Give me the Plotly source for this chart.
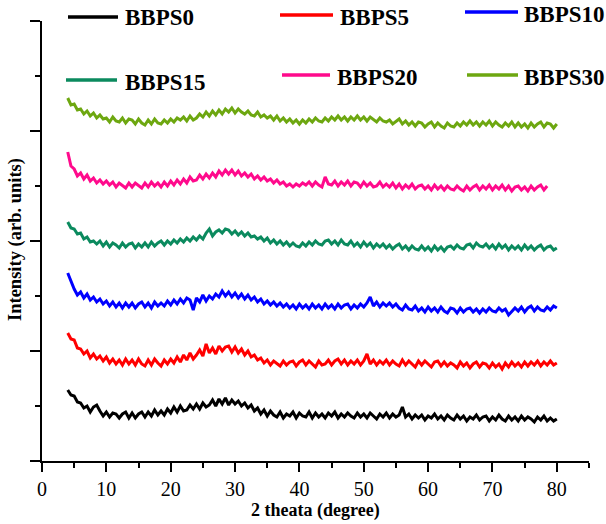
import plotly.graph_objects as go

# Diffraction angle grid (degrees), 0.5 degree steps from 4 to 80
two_theta = [4 + 0.5 * i for i in range(153)]

# Stacked XRD intensities (arb. units), one list per composition
bbps0 = [
    71, 66, 65, 59, 58, 53, 55, 49, 54, 56,
    50, 45, 49, 44, 48, 47, 43, 47, 49, 43,
    48, 43, 47, 49, 44, 49, 45, 51, 46, 50,
    46, 52, 48, 54, 49, 55, 50, 51, 56, 52,
    57, 52, 58, 54, 56, 61, 55, 62, 57, 63,
    56, 61, 57, 60, 55, 58, 53, 56, 50, 53,
    47, 51, 45, 50, 46, 44, 49, 43, 47, 45,
    49, 43, 48, 45, 44, 49, 43, 48, 44, 47,
    43, 48, 45, 49, 43, 47, 44, 48, 45, 43,
    48, 44, 47, 43, 48, 45, 42, 47, 44, 48,
    43, 47, 44, 46, 54, 44, 47, 42, 46, 43,
    46, 41, 45, 43, 47, 42, 45, 41, 46, 43,
    41, 46, 42, 45, 40, 44, 42, 46, 41, 44,
    45, 40, 44, 41, 46, 42, 40, 45, 41, 44,
    40, 45, 41, 44, 42, 39, 44, 41, 45, 40,
    43, 40, 42,
]
bbps5 = [
    128, 122, 121, 113, 112, 107, 110, 103, 107, 102,
    105, 100, 104, 98, 102, 97, 101, 96, 102, 97,
    101, 96, 102, 97, 95, 101, 96, 102, 98, 95,
    101, 97, 102, 98, 104, 99, 106, 101, 108, 102,
    106, 111, 105, 117, 108, 113, 107, 115, 110, 114,
    115, 109, 114, 108, 112, 106, 110, 104, 106, 101,
    103, 98, 101, 96, 100, 97, 95, 100, 96, 99,
    100, 95, 99, 101, 96, 100, 97, 94, 100, 96,
    97, 101, 96, 100, 102, 97, 101, 96, 100, 97,
    101, 96, 100, 107, 97, 101, 96, 100, 97, 101,
    96, 100, 97, 95, 101, 96, 100, 97, 94, 100,
    96, 100, 97, 94, 99, 100, 95, 99, 95, 98,
    96, 93, 99, 95, 98, 93, 97, 99, 94, 98,
    97, 93, 98, 94, 97, 92, 98, 94, 99, 95,
    98, 94, 99, 95, 99, 96, 100, 95, 99, 96,
    100, 96, 98,
]
bbps10 = [
    188, 179, 172, 166, 169, 163, 167, 161, 164, 159,
    162, 157, 160, 155, 159, 154, 158, 153, 158, 154,
    158, 153, 157, 159, 154, 158, 153, 159, 155, 158,
    155, 160, 156, 161, 157, 162, 158, 163, 161, 151,
    163, 159, 166, 160, 165, 162, 167, 164, 170, 165,
    169, 164, 168, 163, 167, 162, 166, 161, 164, 159,
    162, 157, 160, 156, 159, 155, 158, 154, 157, 153,
    156, 152, 157, 153, 156, 152, 157, 153, 156, 152,
    157, 153, 156, 152, 157, 153, 156, 157, 152, 156,
    153, 157, 154, 158, 164, 155, 159, 154, 158, 155,
    158, 154, 157, 153, 151, 156, 152, 151, 155, 150,
    153, 149, 154, 150, 153, 149, 154, 150, 148, 153,
    152, 148, 153, 149, 152, 153, 149, 152, 148, 152,
    149, 153, 150, 149, 153, 150, 152, 146, 150, 153,
    150, 154, 149, 153, 155, 150, 154, 151, 150, 154,
    151, 155, 153,
]
bbps15 = [
    239, 233, 232, 227, 228, 222, 224, 219, 220, 217,
    220, 215, 219, 214, 218, 216, 213, 218, 214, 217,
    218, 213, 217, 214, 218, 214, 219, 215, 218, 220,
    216, 220, 217, 221, 218, 222, 219, 223, 220, 224,
    221, 225, 222, 228, 232, 225, 229, 231, 228, 232,
    231, 227, 230, 226, 229, 225, 228, 224, 225, 222,
    224, 220, 223, 218, 221, 217, 220, 216, 219, 215,
    218, 215, 214, 218, 215, 219, 216, 220, 217, 216,
    220, 221, 217, 220, 216, 221, 217, 216, 220, 215,
    218, 214, 219, 215, 218, 213, 217, 214, 217, 213,
    216, 212, 215, 217, 212, 215, 211, 215, 212, 211,
    215, 211, 214, 210, 215, 211, 214, 210, 214, 215,
    212, 216, 213, 212, 216, 217, 213, 218, 215, 214,
    217, 213, 216, 212, 217, 213, 216, 211, 215, 212,
    215, 211, 216, 212, 215, 211, 214, 216, 211, 214,
    215, 211, 213,
]
bbps20 = [
    309, 295, 292, 285, 288, 282, 286, 280, 283, 278,
    281, 277, 280, 276, 279, 274, 278, 275, 273, 278,
    274, 278, 275, 273, 278, 274, 279, 275, 278, 274,
    279, 275, 280, 276, 281, 277, 282, 278, 284, 280,
    281, 286, 282, 287, 283, 288, 284, 290, 286, 291,
    287, 291, 286, 290, 285, 288, 284, 287, 282, 285,
    281, 284, 280, 282, 278, 281, 277, 279, 275, 277,
    274, 277, 275, 278, 276, 279, 275, 279, 276, 274,
    284, 277, 276, 280, 275, 279, 276, 280, 275, 279,
    278, 274, 279, 275, 278, 274, 275, 279, 274, 277,
    274, 278, 273, 277, 272, 276, 273, 277, 272, 275,
    276, 272, 275, 271, 276, 272, 275, 271, 275, 272,
    271, 275, 272, 270, 275, 271, 274, 276, 271, 275,
    272, 276, 271, 275, 272, 276, 271, 275, 270, 274,
    275, 271, 274, 270, 275, 271, 274, 276, 271, 275,
    None, None, None,
]
bbps30 = [
    363, 356, 357, 351, 352, 347, 350, 345, 348, 343,
    346, 342, 343, 339, 344, 340, 339, 343, 338, 342,
    341, 337, 342, 338, 336, 341, 337, 342, 338, 337,
    341, 338, 342, 339, 343, 341, 344, 340, 345, 341,
    343, 347, 344, 349, 345, 350, 346, 351, 347, 352,
    349, 353, 348, 352, 349, 347, 350, 346, 345, 349,
    344, 346, 343, 345, 341, 345, 340, 343, 339, 342,
    338, 341, 337, 341, 338, 342, 339, 343, 340, 339,
    343, 340, 344, 341, 345, 341, 344, 340, 344, 341,
    345, 341, 344, 340, 344, 341, 339, 343, 340, 339,
    341, 337, 340, 342, 337, 340, 336, 339, 335, 339,
    338, 334, 337, 339, 334, 338, 335, 333, 338, 335,
    334, 338, 335, 339, 336, 340, 336, 339, 335, 339,
    336, 340, 335, 339, 336, 334, 338, 335, 339, 334,
    338, 334, 337, 333, 338, 334, 337, 339, 334, 338,
    337, 333, 337,
]

names = ["BBPS0", "BBPS5", "BBPS10", "BBPS15", "BBPS20", "BBPS30"]
series = [bbps0, bbps5, bbps10, bbps15, bbps20, bbps30]
colors = ["#000000", "#FF0000", "#0000FF", "#0B8A5E", "#FF0A8C", "#6DA710"]

SERIF = "Liberation Serif, Times New Roman, serif"

fig = go.Figure()
for name, vals, col in zip(names, series, colors):
    fig.add_trace(go.Scatter(
        x=two_theta, y=vals, mode="lines", name=name,
        line=dict(color=col, width=3), showlegend=False,
        connectgaps=False,
    ))

# Plot-area geometry in pixels, used to place the hand-laid legend
W, H = 606, 524
L, R, T, B = 42, 17, 21, 63
pw, ph = W - L - R, H - T - B


def px(xp):
    return (xp - L) / pw


def py(yp):
    return (H - B - yp) / ph


# legend rows: (line start, line end, line y, text x, text y)
legend_pos = [
    (68, 118, 17, 123, 18),
    (280, 333, 15, 338, 17),
    (465, 518, 12, 522, 14),
    (66, 117, 80, 123, 82),
    (282, 330, 75, 335, 77),
    (467, 518, 75, 522, 78),
]
shapes = []
annotations = []
for name, col, (x0, x1, ly, tx, ty) in zip(names, colors, legend_pos):
    shapes.append(dict(type="line", xref="paper", yref="paper",
                       x0=px(x0), x1=px(x1), y0=py(ly), y1=py(ly),
                       line=dict(color=col, width=3.5)))
    annotations.append(dict(text="<b>" + name + "</b>", xref="paper", yref="paper",
                            x=px(tx), y=py(ty), xanchor="left", yanchor="middle",
                            showarrow=False,
                            font=dict(family=SERIF, size=23, color="#000")))

annotations.append(dict(text="<b>Intensity (arb. units)</b>", xref="paper", yref="paper",
                        x=px(16), y=py(240), textangle=-90, showarrow=False,
                        xanchor="center", yanchor="middle",
                        font=dict(family=SERIF, size=18.5, color="#000")))
annotations.append(dict(text="<b>2 theata (degree)</b>", xref="paper", yref="paper",
                        x=px(315), y=py(511), showarrow=False,
                        xanchor="center", yanchor="middle",
                        font=dict(family=SERIF, size=18, color="#000")))

fig.update_layout(
    width=W, height=H,
    margin=dict(l=L, r=R, t=T, b=B),
    paper_bgcolor="white", plot_bgcolor="white",
    shapes=shapes, annotations=annotations,
    font=dict(family=SERIF, color="#000"),
)
fig.update_xaxes(
    range=[0, 85], showgrid=False, zeroline=False,
    showline=True, linecolor="#000", linewidth=1.5,
    ticks="outside", ticklen=9, tickwidth=1.5, tickcolor="#000",
    tick0=0, dtick=10,
    tickfont=dict(family=SERIF, size=20, color="#000"),
    minor=dict(ticks="outside", dtick=5, ticklen=5, tickwidth=1.5, tickcolor="#000"),
)
fig.update_yaxes(
    range=[0, 440], showgrid=False, zeroline=False,
    showline=True, linecolor="#000", linewidth=1.5,
    ticks="outside", ticklen=10, tickwidth=1.5, tickcolor="#000",
    tick0=0, dtick=110, showticklabels=False,
    minor=dict(ticks="outside", dtick=55, ticklen=5, tickwidth=1.5, tickcolor="#000"),
)

fig.write_html("out.html")
